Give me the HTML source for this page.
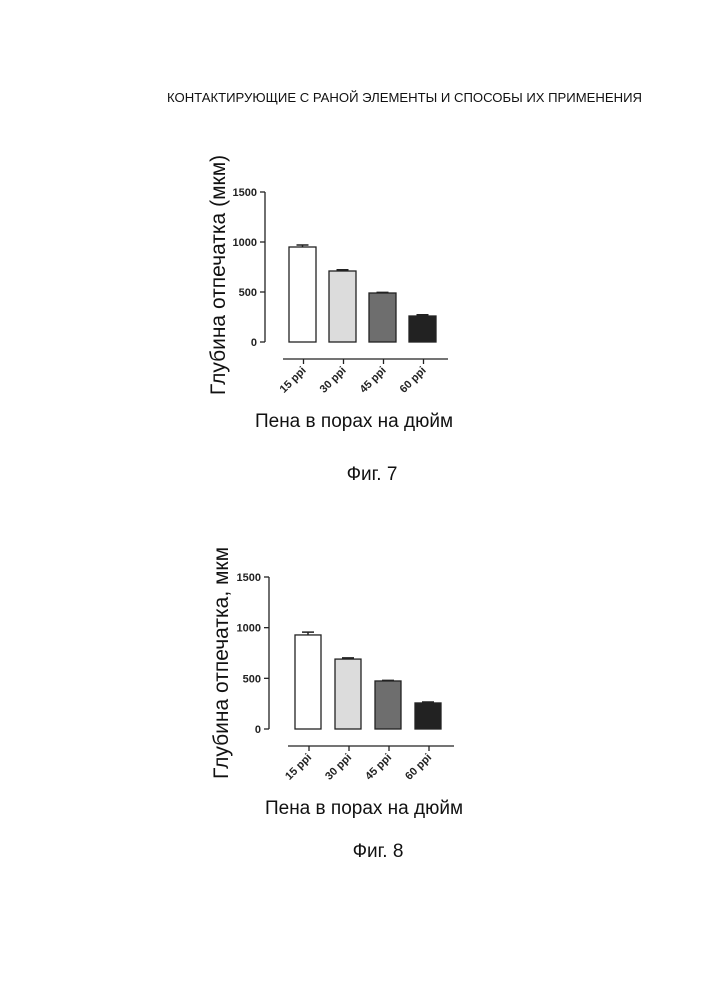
<!DOCTYPE html>
<html><head><meta charset="utf-8"><style>
html,body{margin:0;padding:0;background:#fff;}
svg{display:block;font-family:"Liberation Sans",sans-serif;}
</style></head><body>
<svg id="page" width="707" height="1000" viewBox="0 0 707 1000">
<text x="167" y="102" font-size="13" textLength="475" lengthAdjust="spacingAndGlyphs" fill="#111">КОНТАКТИРУЮЩИЕ С РАНОЙ ЭЛЕМЕНТЫ И СПОСОБЫ ИХ ПРИМЕНЕНИЯ</text>
<g id="chart1"></g>
<g id="chart2"></g>
<text x="372" y="480" font-size="19" text-anchor="middle" fill="#111">Фиг. 7</text>
<text x="378" y="857" font-size="19" text-anchor="middle" fill="#111">Фиг. 8</text>
</svg>
<script>
const categories = ["15 ppi","30 ppi","45 ppi","60 ppi"];
const fig7Values = [950, 710, 490, 260];
const fig7Errors = [20, 12, 6, 12];
const fig8Values = [928, 690, 474, 257];
const fig8Errors = [28, 12, 6, 10];
const yTicks = [0, 500, 1000, 1500];
const yTickLabels = ["0","500","1000","1500"];
const fills = ["#ffffff","#dcdcdc","#6e6e6e","#222222"];
const NS = "http://www.w3.org/2000/svg";
function mk(tag, attrs, parent){const e=document.createElementNS(NS,tag);for(const k in attrs)e.setAttribute(k,attrs[k]);parent.appendChild(e);return e;}
function draw(g, vals, errs, o, yTitle, tag){
  const y = v => o.y0 - (v/1500)*(o.y0-o.y1500);
  const bx = i => o.bx0 + i*o.step;
  // y axis
  let ax = mk("line",{x1:o.ax,y1:y(1500),x2:o.ax,y2:y(0),stroke:"#222","stroke-width":1.3},g);
  
  
  yTicks.forEach((t,i)=>{
    let tk=mk("line",{x1:o.ax-5,y1:y(t),x2:o.ax,y2:y(t),stroke:"#222","stroke-width":1.3},g);
    
    
    let tl=mk("text",{x:o.ax-8,y:y(t)+4,"font-size":11,"font-weight":"bold","text-anchor":"end",fill:"#222"},g);
    tl.textContent=yTickLabels[i];
    
    
  });
  // x axis
  let xa=mk("line",{x1:o.xa0,y1:o.xay,x2:o.xa1,y2:o.xay,stroke:"#222","stroke-width":1.3},g);
  
  
  vals.forEach((v,i)=>{
    const x=bx(i), cx=x+o.bw/2;
    let eb=mk("path",{d:`M${cx},${y(v)} V${y(v+errs[i])} M${cx-6},${y(v+errs[i])} H${cx+6}`,stroke:"#222","stroke-width":1.5,fill:"none"},g);
    
    
    let r=mk("rect",{x:x,y:y(v),width:o.bw,height:y(0)-y(v),fill:fills[i],stroke:"#222","stroke-width":1.3},g);
    
    
    let tk=mk("line",{x1:cx+1,y1:o.xay,x2:cx+1,y2:o.xay+5,stroke:"#222","stroke-width":1.3},g);
    
    
    let tl=mk("text",{x:0,y:0,"font-size":11,"font-weight":"bold","text-anchor":"end",fill:"#222",transform:`translate(${cx+4},${o.xay+12}) rotate(-45)`},g);
    tl.textContent=categories[i];
    
    
  });
  let yt=mk("text",{x:0,y:0,"font-size":21,"text-anchor":"middle",fill:"#111",transform:`translate(${o.ytx},${o.yty}) rotate(-90)`},g);
  yt.textContent=yTitle;
  
  
  let xt=mk("text",{x:o.xtx,y:o.xty,"font-size":19,"text-anchor":"middle",fill:"#111"},g);
  xt.textContent="Пена в порах на дюйм";
  
  
}
draw(document.getElementById("chart1"), fig7Values, fig7Errors,
 {ax:265,y0:342,y1500:192,bx0:289,step:40,bw:27,xa0:283,xa1:448,xay:359,ytx:225,yty:275,xtx:354,xty:427},
 "Глубина отпечатка (мкм)","fig7");
draw(document.getElementById("chart2"), fig8Values, fig8Errors,
 {ax:269,y0:729,y1500:577,bx0:295,step:40,bw:26,xa0:288,xa1:454,xay:746,ytx:228,yty:663,xtx:364,xty:814},
 "Глубина отпечатка, мкм","fig8");
</script>
</body></html>
